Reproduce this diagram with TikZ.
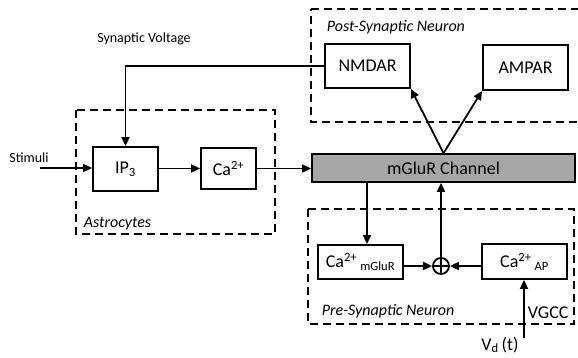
\documentclass[tikz,border=0pt]{standalone}
\usepackage{fontspec}
\setmainfont{Carlito}
\usetikzlibrary{arrows.meta}
\begin{document}
\begin{tikzpicture}[x=1pt,y=-1pt,
  line width=1.8pt,
  >={Triangle[length=9pt,width=8pt]},
  block/.style={draw,rectangle,inner sep=0pt,font=\fontsize{18}{20}\selectfont},
  region/.style={draw,dash pattern=on 8pt off 5pt,line width=1.5pt},
  regionlabel/.style={font=\fontsize{16}{18}\selectfont\itshape,anchor=west,inner sep=0pt},
  smalllabel/.style={font=\fontsize{14}{16}\selectfont,inner sep=0pt},
  sumnode/.style={draw,circle,minimum size=16pt,inner sep=0pt}
]
\useasboundingbox (0,0) rectangle (578,357);

% dashed regions
\draw[region] (76,110) rectangle (275,234);
\draw[region] (311,9) -- (590,9) (590,122) -- (311,122) -- (311,9);
\draw[region] (308,209) rectangle (574,324);

\node[regionlabel] (astrolab) at (83,224) {Astrocytes};
\node[regionlabel] (postlab) at (326,27) {Post-Synaptic Neuron};
\node[regionlabel] (prelab) at (321,311) {Pre-Synaptic Neuron};

% blocks
\node[block,minimum width=65pt,minimum height=44pt] (ip3) at (125.5,169) {IP\textsubscript{3}};
\node[block,minimum width=55pt,minimum height=41pt] (ca) at (228.5,168.5) {Ca\textsuperscript{2+}};
\node[block,fill=black!35,minimum width=263pt,minimum height=28pt] (mglur) at (443.5,168) {mGluR Channel};
\node[block,minimum width=85pt,minimum height=44pt] (nmdar) at (367.5,66) {NMDAR};
\node[block,minimum width=85pt,minimum height=45pt] (ampar) at (525.5,67.5) {AMPAR};
\node[block,minimum width=85pt,minimum height=34pt] (camg) at (360.5,262) {Ca\textsuperscript{2+}\,\textsubscript{mGluR}};
\node[block,minimum width=85pt,minimum height=35pt] (caap) at (524.5,261.5) {Ca\textsuperscript{2+}\,\textsubscript{AP}};
\node[sumnode] (sum) at (441,266) {};
\draw (sum.north) -- (sum.south) (sum.west) -- (sum.east);

% free labels
\node[smalllabel] (stim) at (29,158) {Stimuli};
\node[smalllabel] (synv) at (144,39) {Synaptic Voltage};
\node[block,draw=none,anchor=west] (vgcc) at (527,313) {VGCC};
\node[block,draw=none] (vd) at (500,345) {V\textsubscript{d}\,(t)};
\coordinate (stimin) at (40,168);
\coordinate (vdin) at (524,338);

% connectors
\draw[->] (stimin) -- (ip3.west |- stimin);
\draw[->] (nmdar.west) -- (ip3.north |- nmdar.west) -- (ip3.north);
\draw[->] (ip3.east |- ca.west) -- (ca.west);
\draw[->] (ca.east) -- (mglur.west |- ca.east);
\draw[->] (mglur.north) -- (nmdar.south east);
\draw[->] (mglur.north) -- (ampar.south west);
\draw[->] (mglur.south -| 367,0) -- (camg.north -| 367,0);
\draw[->] (sum.north) -- (mglur.south -| sum.north);
\draw[->] (camg.east |- sum.west) -- (sum.west);
\draw[->] (caap.west |- sum.east) -- (sum.east);
\draw[->] (vdin) -- (caap.south -| vdin);
\end{tikzpicture}
\end{document}
